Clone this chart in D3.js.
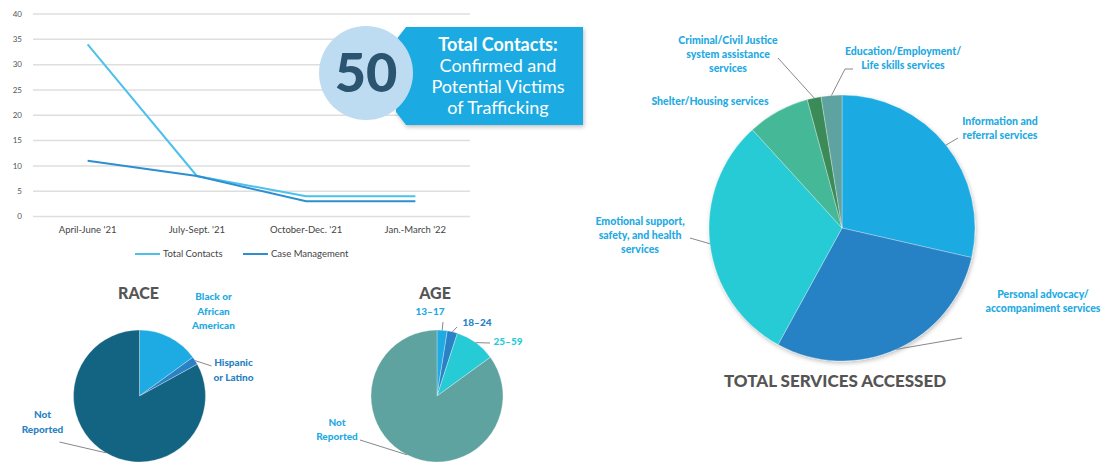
<!DOCTYPE html>
<html>
<head>
<meta charset="utf-8">
<script src="https://cdn.jsdelivr.net/npm/d3@7"></script>
<style>
  body { margin: 0; background: #fff; }
  svg { display: block; font-family: Lato, "Noto Sans", sans-serif; }
</style>
</head>
<body>
<svg id="drawing_region"></svg>
<script>
// ---- data ----
const quarters = ["April-June '21", "July-Sept. '21", "October-Dec. '21", "Jan.-March '22"];
const totalContacts = [34, 8, 4, 4];
const caseManagement = [11, 8, 3, 3];
const yTicks = [0, 5, 10, 15, 20, 25, 30, 35, 40];
const seriesNames = ["Total Contacts", "Case Management"];

const totalCount = 50;
const calloutLines = ["Total Contacts:", "Confirmed and", "Potential Victims", "of Trafficking"];

const raceLabels = ["Black or African American", "Hispanic or Latino", "Not Reported"];
const raceValues = [15, 2, 83];

const ageLabels = ["13–17", "18–24", "25–59", "Not Reported"];
const ageValues = [2.5, 2.5, 10, 85];

const serviceLabels = [
  "Information and referral services",
  "Personal advocacy/ accompaniment services",
  "Emotional support, safety, and health services",
  "Shelter/Housing services",
  "Criminal/Civil Justice system assistance services",
  "Education/Employment/ Life skills services"
];
const serviceValues = [34, 35, 36, 9, 2, 3];

// ---- setup ----
const W = 1112, H = 462;
const svg = d3.select('#drawing_region').attr('width', W).attr('height', H);

const defs = svg.append('defs');
defs.append('filter').attr('id', 'shadow')
  .attr('x', '-20%').attr('y', '-20%').attr('width', '140%').attr('height', '140%')
  .append('feDropShadow')
  .attr('dx', 1).attr('dy', 2).attr('stdDeviation', 2)
  .attr('flood-color', '#000').attr('flood-opacity', 0.25);

// ---- line chart ----
const x = d3.scalePoint().domain(quarters).range([33, 470]).padding(0.5);
const y = d3.scaleLinear().domain([0, 40]).range([216.5, 14]);

const lineG = svg.append('g');

lineG.selectAll('.grid')
  .data(yTicks)
  .enter().append('line')
  .attr('x1', 33).attr('x2', 470)
  .attr('y1', d => y(d)).attr('y2', d => y(d))
  .attr('stroke', '#dedede').attr('stroke-width', 1.5);

lineG.selectAll('.ylab')
  .data(yTicks)
  .enter().append('text')
  .attr('x', 22).attr('y', d => y(d))
  .attr('dy', '0.35em')
  .attr('text-anchor', 'end')
  .attr('font-size', 8).attr('fill', '#555')
  .text(d => d);

lineG.selectAll('.xlab')
  .data(quarters)
  .enter().append('text')
  .attr('x', d => x(d)).attr('y', 233)
  .attr('text-anchor', 'middle')
  .attr('font-size', 9.5).attr('fill', '#444')
  .text(d => d);

const seriesColors = ['#4cc1ec', '#2d8fd2'];
const line = d3.line().x((d, i) => x(quarters[i])).y(d => y(d));

[totalContacts, caseManagement].forEach((s, i) => {
  lineG.append('path')
    .attr('d', line(s))
    .attr('fill', 'none')
    .attr('stroke', seriesColors[i])
    .attr('stroke-width', 2);
});

const legendX = [135, 243];
seriesNames.forEach((n, i) => {
  lineG.append('line')
    .attr('x1', legendX[i]).attr('x2', legendX[i] + 25)
    .attr('y1', 254).attr('y2', 254)
    .attr('stroke', seriesColors[i]).attr('stroke-width', 2);
  lineG.append('text')
    .attr('x', legendX[i] + 28).attr('y', 254).attr('dy', '0.35em')
    .attr('font-size', 9.5).attr('fill', '#444')
    .text(n);
});

// ---- callout ----
const callout = svg.append('g');
callout.append('path')
  .attr('d', 'M406,27 L583,27 L583,125 L406,125 L396,112 L396,40 Z')
  .attr('fill', '#1eaae2')
  .attr('filter', 'url(#shadow)');
callout.append('circle')
  .attr('cx', 366).attr('cy', 73).attr('r', 47)
  .attr('fill', '#bddbf1');
callout.append('text')
  .attr('x', 366).attr('y', 73).attr('dy', '0.36em')
  .attr('text-anchor', 'middle')
  .attr('font-size', 54).attr('font-weight', 900)
  .attr('fill', '#2b5470')
  .text(totalCount);
callout.selectAll('.cl')
  .data(calloutLines)
  .enter().append('text')
  .attr('x', 498).attr('y', (d, i) => 51 + i * 21)
  .attr('text-anchor', 'middle')
  .attr('font-size', 18)
  .attr('font-weight', (d, i) => i === 0 ? 700 : 400)
  .attr('fill', '#fff')
  .text(d => d);

// ---- pie helper ----
class PiePlot {
  constructor(config, labels, values) {
    this.config = config;
    this.labels = labels;
    this.values = values;
    this.render();
  }

  render() {
    let self = this;
    const c = self.config;
    const g = svg.append('g').attr('transform', `translate(${c.cx},${c.cy})`);
    const pie = d3.pie().sort(null).value(d => d);
    const arcs = pie(self.values);
    const arc = d3.arc().innerRadius(0).outerRadius(c.r);

    g.append('g').attr('filter', c.shadow ? 'url(#shadow)' : null)
      .selectAll('path')
      .data(arcs)
      .enter().append('path')
      .attr('d', arc)
      .attr('fill', (d, i) => c.colors[i])
      .attr('stroke', '#fff').attr('stroke-opacity', 0.5).attr('stroke-width', 0.6);

    if (c.title) {
      g.append('text')
        .attr('x', c.title.x).attr('y', c.title.y)
        .attr('text-anchor', 'middle')
        .attr('font-size', c.title.size).attr('font-weight', 900)
        .attr('fill', '#555')
        .text(c.title.text);
    }

    arcs.forEach((d, i) => {
      const lab = c.labels[i];
      const mid = (d.startAngle + d.endAngle) / 2;
      const px = c.r * Math.sin(mid), py = -c.r * Math.cos(mid);
      if (lab.leader) {
        const pts = [[px, py]].concat(lab.leader);
        g.append('path')
          .attr('d', d3.line()(pts))
          .attr('fill', 'none')
          .attr('stroke', '#888').attr('stroke-width', 1);
      }
      g.append('text')
        .attr('x', lab.x).attr('y', lab.y)
        .attr('text-anchor', 'middle')
        .attr('font-size', c.labelSize).attr('font-weight', 900)
        .attr('fill', lab.color)
        .selectAll('tspan')
        .data(lab.lines)
        .enter().append('tspan')
        .attr('x', lab.x)
        .attr('dy', (t, k) => k === 0 ? 0 : c.lineH)
        .text(t => t);
    });
  }
}

// race
new PiePlot({
  cx: 139.5, cy: 396, r: 66, lineH: 14.5, labelSize: 10,
  colors: ['#1eaae2', '#2882c5', '#136383'],
  title: { text: 'RACE', x: -1, y: -97, size: 16 },
  labels: [
    { lines: ['Black or', 'African', 'American'], x: 74, y: -96, color: '#1eaae2' },
    { lines: ['Hispanic', 'or Latino'], x: 94, y: -30, color: '#2882c5', leader: [[72, -30]] },
    { lines: ['Not', 'Reported'], x: -97, y: 22, color: '#2882c5', leader: [[-80, 46]] }
  ]
}, raceLabels, raceValues);

// age
new PiePlot({
  cx: 437, cy: 396, r: 66, lineH: 14, labelSize: 10,
  colors: ['#1eaae2', '#2882c5', '#27cbd6', '#5fa3a0'],
  title: { text: 'AGE', x: -2, y: -97, size: 16 },
  labels: [
    { lines: ['13–17'], x: -7, y: -81, color: '#1eaae2', leader: [[6, -74]] },
    { lines: ['18–24'], x: 40, y: -70, color: '#2882c5', leader: [[20, -69]] },
    { lines: ['25–59'], x: 71, y: -51, color: '#27cbd6', leader: [[53, -53]] },
    { lines: ['Not', 'Reported'], x: -100, y: 30, color: '#1eaae2', leader: [[-77, 44]] }
  ]
}, ageLabels, ageValues);

// services
new PiePlot({
  cx: 842, cy: 228, r: 133, lineH: 14, labelSize: 10.5,
  shadow: true,
  colors: ['#1eaae2', '#2682c4', '#27cbd6', '#45b997', '#3b8b58', '#5fa3a0'],
  title: { text: 'TOTAL SERVICES ACCESSED', x: -7, y: 159, size: 17 },
  labels: [
    { lines: ['Information and', 'referral services'], x: 158, y: -103, color: '#1eaae2', leader: [[116, -90]] },
    { lines: ['Personal advocacy/', 'accompaniment services'], x: 201, y: 70, color: '#1eaae2', leader: [[120, 110]] },
    { lines: ['Emotional support,', 'safety, and health', 'services'], x: -202, y: -3, color: '#1eaae2', leader: [[-152, 10]] },
    { lines: ['Shelter/Housing services'], x: -132, y: -123, color: '#1eaae2' },
    { lines: ['Criminal/Civil Justice', 'system assistance', 'services'], x: -114, y: -184, color: '#1eaae2', leader: [[-64, -170]] },
    { lines: ['Education/Employment/', 'Life skills services'], x: 61, y: -173, color: '#1eaae2', leader: [[3, -159], [11, -159]] }
  ]
}, serviceLabels, serviceValues);
</script>
</body>
</html>
